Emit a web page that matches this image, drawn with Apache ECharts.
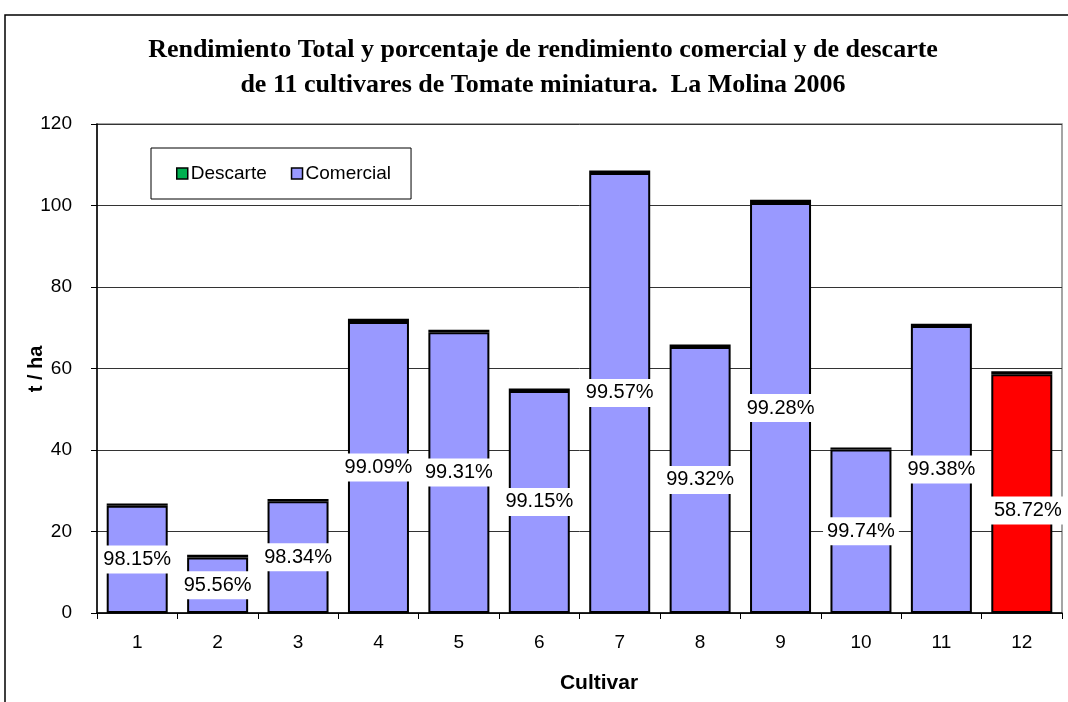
<!DOCTYPE html>
<html>
<head>
<meta charset="utf-8">
<script src="https://cdn.jsdelivr.net/npm/echarts@6/dist/echarts.min.js"></script>
<style>
  html, body { margin: 0; padding: 0; background: #fff; }
  #chartBar { width: 1068px; height: 702px; }
</style>
</head>
<body>
<div id="chartBar"></div>
<script>
// cultivares
var cultivares = ['1', '2', '3', '4', '5', '6', '7', '8', '9', '10', '11', '12'];
// t/ha comercial y descarte
var comercial = [26.3, 13.6, 27.4, 71.4, 68.9, 54.5, 108.0, 65.3, 100.6, 40.1, 70.4, 58.6];
var descarte = [0.6, 0.7, 0.6, 0.8, 0.6, 0.6, 0.6, 0.6, 0.8, 0.5, 0.6, 0.7];
// porcentaje comercial
var porcentaje = ['98.15%', '95.56%', '98.34%', '99.09%', '99.31%', '99.15%', '99.57%', '99.32%', '99.28%', '99.74%', '99.38%', '58.72%'];
var yTicks = [0, 20, 40, 60, 80, 100, 120];

var fontSans = 'Liberation Sans, Arial, sans-serif';

var comercialData = comercial.map(function (v, i) {
    var item = { value: v, label: { formatter: porcentaje[i] } };
    if (i === 11) {
        item.itemStyle = { color: '#ff0000' };
        item.label.offset = [6, 17];
    }
    return item;
});

var chartBar = {
    animation: false,
    textStyle: { fontFamily: fontSans, color: '#000' },
    title: {
        text: 'Rendimiento Total y porcentaje de rendimiento comercial y de descarte\nde 11 cultivares de Tomate miniatura.  La Molina 2006',
        left: 538,
        top: 28,
        textAlign: 'center',
        textStyle: {
            fontFamily: 'Liberation Serif, Times New Roman, serif',
            fontWeight: 'bold',
            fontSize: 26,
            lineHeight: 35,
            color: '#000'
        }
    },
    legend: {
        left: 151,
        top: 148,
        width: 258,
        height: 45,
        padding: [16, 20, 16, 25],
        borderColor: '#000',
        borderWidth: 1,
        backgroundColor: '#fff',
        itemWidth: 11,
        itemHeight: 11,
        itemGap: 24,
        icon: 'rect',
        data: ['Descarte', 'Comercial'],
        itemStyle: { borderColor: '#000', borderWidth: 1.5 },
        textStyle: { fontSize: 19, color: '#000', fontFamily: fontSans, padding: [0, 0, 0, -2] }
    },
    grid: {
        left: 97,
        right: 6,
        top: 124,
        bottom: 89,
        show: true,
        borderColor: '#888',
        borderWidth: 1.5,
        containLabel: false
    },
    graphic: [
        {
            type: 'rect',
            shape: { x: 5, y: 15, width: 1200, height: 900 },
            style: { fill: 'none', stroke: '#000', lineWidth: 1.5 },
            silent: true,
            z: -10
        },
        {
            type: 'text',
            x: 36,
            y: 369,
            rotation: Math.PI / 2,
            style: {
                text: 't / ha',
                font: 'bold 20px ' + fontSans,
                fill: '#000',
                align: 'center',
                verticalAlign: 'middle'
            }
        },
        {
            type: 'text',
            x: 599,
            y: 683,
            style: {
                text: 'Cultivar',
                font: 'bold 21px ' + fontSans,
                fill: '#000',
                align: 'center',
                verticalAlign: 'middle'
            }
        }
    ],
    xAxis: {
        type: 'category',
        data: cultivares,
        axisLine: { lineStyle: { color: '#000', width: 1.5 } },
        axisTick: { show: true, alignWithLabel: false, length: 6, lineStyle: { color: '#000' } },
        axisLabel: { fontSize: 19, color: '#000', margin: 20, fontFamily: fontSans },
        splitLine: { show: false }
    },
    yAxis: {
        type: 'value',
        min: yTicks[0],
        max: yTicks[yTicks.length - 1],
        interval: 20,
        axisLine: { show: true, lineStyle: { color: '#000', width: 1.5 } },
        axisTick: { show: true, length: 6, lineStyle: { color: '#000' } },
        axisLabel: { fontSize: 19, color: '#000', margin: 25, fontFamily: fontSans },
        splitLine: { show: true, lineStyle: { color: '#333', width: 1, type: 'solid' } }
    },
    series: [
        {
            name: 'Comercial',
            type: 'bar',
            stack: 'total',
            barWidth: 61,
            data: comercialData,
            itemStyle: { color: '#9999ff', borderColor: '#000', borderWidth: 2 },
            label: {
                show: true,
                position: 'inside',
                fontSize: 20,
                color: '#000',
                fontFamily: fontSans,
                backgroundColor: '#fff',
                padding: [5, 4, 3, 4]
            },
            z: 3
        },
        {
            name: 'Descarte',
            type: 'bar',
            stack: 'total',
            barWidth: 61,
            data: descarte,
            itemStyle: { color: '#00b050', borderColor: '#000', borderWidth: 2 },
            z: 2
        }
    ]
};

var myChartBar = echarts.init(document.getElementById('chartBar'));
myChartBar.setOption(chartBar);
</script>
</body>
</html>
